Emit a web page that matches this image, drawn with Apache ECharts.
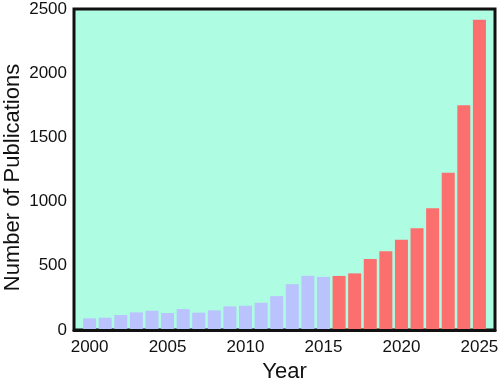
<!DOCTYPE html>
<html>
<head>
<meta charset="utf-8">
<script src="https://cdn.jsdelivr.net/npm/echarts@6/dist/echarts.min.js"></script>
<style>html,body{margin:0;padding:0;background:#fff}#c{width:500px;height:381px}</style>
</head>
<body>
<div id="c"></div>
<script>
const years = [2000,2001,2002,2003,2004,2005,2006,2007,2008,2009,2010,2011,2012,2013,2014,2015,2016,2017,2018,2019,2020,2021,2022,2023,2024,2025];
const publications = [91,96,117,137,150,132,163,135,153,184,189,212,264,357,422,414,421,441,552,614,702,793,948,1225,1751,2417];
const xTickLabels = [2000,2005,2010,2015,2020,2025];
const yTicks = [0,500,1000,1500,2000,2500];
const splitYear = 2016;

const chart = echarts.init(document.getElementById('c'), null, {renderer:'canvas'});
chart.setOption({
  animation: false,
  grid: {left: 74, right: 5, top: 9, bottom: 51, containLabel: false, outerBoundsMode: 'none',
         show: true, backgroundColor: '#aefde2', borderColor: '#111', borderWidth: 3},
  xAxis: {
    type: 'value', min: 1999, max: 2026, interval: 1, z: 5,
    name: 'Year', nameLocation: 'middle', nameGap: 31, nameMoveOverlap: false,
    nameTextStyle: {fontFamily: 'Liberation Sans', fontSize: 22, color: '#111'},
    axisLine: {show: true, onZero: false, lineStyle: {color: '#111', width: 3}},
    axisTick: {show: false}, splitLine: {show: false},
    axisLabel: {fontFamily: 'Liberation Sans', fontSize: 17, color: '#111', margin: 9,
      showMinLabel: true, showMaxLabel: true, hideOverlap: false,
      formatter: v => xTickLabels.includes(v) ? String(v) : ''}
  },
  yAxis: {
    type: 'value', min: yTicks[0], max: yTicks[yTicks.length-1], interval: 500,
    name: 'Number of Publications', nameLocation: 'middle', nameGap: 50, nameMoveOverlap: false,
    nameTextStyle: {fontFamily: 'Liberation Sans', fontSize: 22, color: '#111', padding: [0, 16, 0, 0]},
    axisLine: {show: false}, axisTick: {show: false}, splitLine: {show: false},
    axisLabel: {fontFamily: 'Liberation Sans', fontSize: 17, color: '#111', margin: 7,
      formatter: v => String(v)}
  },
  series: [{
    type: 'bar', barWidth: 13,
    data: years.map((y, i) => [y, publications[i]]),
    itemStyle: {color: p => p.data[0] >= splitYear ? '#fb6f6f' : '#bac3fe'}
  }]
});
</script>
</body>
</html>
